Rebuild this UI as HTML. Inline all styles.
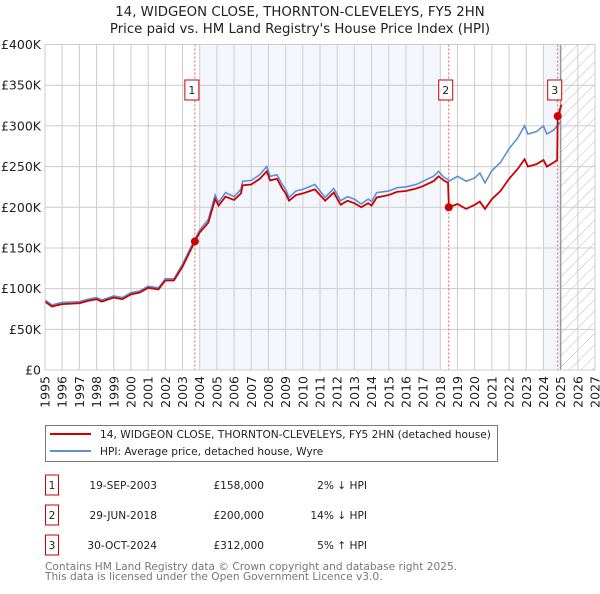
<!DOCTYPE html>
<html><head><meta charset="utf-8"><style>
body{margin:0;background:#fff;font-family:"DejaVu Sans","Liberation Sans",sans-serif;}
svg text{font-family:"DejaVu Sans","Liberation Sans",sans-serif;}
</style></head><body>
<svg id="c" width="600" height="590" viewBox="0 0 600 590" xmlns="http://www.w3.org/2000/svg">
<defs><pattern id="hatch" width="8" height="8" patternUnits="userSpaceOnUse" patternTransform="rotate(45)"><line x1="0" y1="0" x2="0" y2="8" stroke="#bbb" stroke-width="1"/></pattern></defs>
<text x="300" y="16" text-anchor="middle" font-size="13.3" fill="#222">14, WIDGEON CLOSE, THORNTON-CLEVELEYS, FY5 2HN</text>
<text x="300" y="33" text-anchor="middle" font-size="13.3" fill="#222">Price paid vs. HM Land Registry's House Price Index (HPI)</text>
<g id="plot"></g>
<g>
<rect x="45.5" y="425.5" width="452" height="36" fill="#fff" stroke="#777"/>
<line x1="50" y1="434" x2="91" y2="434" stroke="#cc0000" stroke-width="2"/>
<text x="100" y="438" font-size="10.6" fill="#222">14, WIDGEON CLOSE, THORNTON-CLEVELEYS, FY5 2HN (detached house)</text>
<line x1="50" y1="451" x2="91" y2="451" stroke="#5b8fd6" stroke-width="2"/>
<text x="100" y="455" font-size="10.6" fill="#222">HPI: Average price, detached house, Wyre</text>
</g>
<g id="table" font-size="10.6" fill="#222"></g>
<text x="45" y="570" font-size="10.6" fill="#777">Contains HM Land Registry data © Crown copyright and database right 2025.</text>
<text x="45" y="580" font-size="10.6" fill="#777">This data is licensed under the Open Government Licence v3.0.</text>
</svg>
<script>
const hpiYears=[1995,1995.4,1996,1997,1997.5,1998,1998.3,1999,1999.5,2000,2000.5,2001,2001.6,2002,2002.5,2003,2003.72,2004,2004.5,2004.9,2005.1,2005.5,2006,2006.4,2006.5,2007,2007.5,2007.9,2008.1,2008.5,2008.8,2009,2009.2,2009.6,2010,2010.7,2011.3,2011.8,2012.2,2012.6,2013,2013.4,2013.8,2014,2014.3,2015,2015.5,2016,2016.6,2017,2017.6,2017.9,2018.2,2018.45,2018.5,2019,2019.5,2020,2020.3,2020.6,2021,2021.5,2022,2022.5,2022.9,2023.1,2023.6,2024,2024.2,2024.6,2024.8,2025];
const hpiValues=[86,80,83,84,87,89,86,91,89,95,97,103,101,112,112,130,161,172,185,215,206,218,213,222,232,233,240,250,238,240,228,222,212,220,222,228,212,223,208,213,210,204,210,207,218,220,224,225,228,232,238,244,237,234,232,238,232,236,242,230,245,255,272,285,300,290,293,300,290,295,300,305];
const priceYears=[1995,1995.4,1996,1997,1997.5,1998,1998.3,1999,1999.5,2000,2000.5,2001,2001.6,2002,2002.5,2003,2003.72,2004,2004.5,2004.9,2005.1,2005.5,2006,2006.4,2006.5,2007,2007.5,2007.9,2008.1,2008.5,2008.8,2009,2009.2,2009.6,2010,2010.7,2011.3,2011.8,2012.2,2012.6,2013,2013.4,2013.8,2014,2014.3,2015,2015.5,2016,2016.6,2017,2017.6,2017.9,2018.2,2018.45,2018.5,2019,2019.5,2020,2020.3,2020.6,2021,2021.5,2022,2022.5,2022.9,2023.1,2023.6,2024,2024.2,2024.6,2024.8,2024.83,2025.05];
const priceValues=[84,78,81,82,85,87,84,89,87,93,95,101,99,110,110,127,158,169,181,210,202,213,209,217,227,228,235,244,233,235,223,217,208,215,217,222,208,218,203,208,205,200,205,202,212,215,219,220,223,226,232,238,233,230,200,204,198,203,207,198,210,220,235,247,259,250,253,258,250,255,258,312,326];
const saleYears=[2003.72,2018.49,2024.83];
const saleValues=[158,200,312];
const saleLabels=["1","2","3"];
const saleDates=["19-SEP-2003","29-JUN-2018","30-OCT-2024"];
const salePrices=["£158,000","£200,000","£312,000"];
const saleDiffs=["2% ↓ HPI","14% ↓ HPI","5% ↑ HPI"];
const yTicks=[0,50,100,150,200,250,300,350,400];
const yTickLabels=["£0","£50K","£100K","£150K","£200K","£250K","£300K","£350K","£400K"];
const xTicks=[1995,1996,1997,1998,1999,2000,2001,2002,2003,2004,2005,2006,2007,2008,2009,2010,2011,2012,2013,2014,2015,2016,2017,2018,2019,2020,2021,2022,2023,2024,2025,2026,2027];

const L=45,R=595,T=44.5,B=370;
const x=y=>L+(y-1995)/(2027-1995)*(R-L);
const yv=v=>B-v/400*(B-T);
const NS="http://www.w3.org/2000/svg";
const plot=document.getElementById('plot');
function mk(tag,attrs,parent){const e=document.createElementNS(NS,tag);for(const k in attrs)e.setAttribute(k,attrs[k]);(parent||plot).appendChild(e);return e;}

let r;
r=mk('rect',{x:x(2004),y:T,width:x(2018)-x(2004),height:B-T,fill:'#eef3fc',opacity:0.7});


r=mk('rect',{x:x(2024),y:T,width:x(2025)-x(2024),height:B-T,fill:'#eef3fc',opacity:0.7});


r=mk('rect',{x:x(2025),y:T,width:R-x(2025),height:B-T,fill:'url(#hatch)'});



xTicks.forEach(t=>{
  const l=mk('line',{x1:x(t),x2:x(t),y1:T,y2:B,stroke:'#ccc','stroke-width':1});
  
  
  const tx=mk('text',{x:0,y:0,'font-size':12.5,fill:'#222','text-anchor':'end',transform:`translate(${x(t)+4.5},${B+6}) rotate(-90)`});
  tx.textContent=t;
  
  
});
yTicks.forEach((t,i)=>{
  const l=mk('line',{x1:L,x2:R,y1:yv(t),y2:yv(t),stroke:'#ccc','stroke-width':1});
  
  
  const tx=mk('text',{x:L-4,y:yv(t)+4.5,'font-size':12.5,fill:'#222','text-anchor':'end'});
  tx.textContent=yTickLabels[i];
  
  
});
r=mk('line',{x1:x(2025),x2:x(2025),y1:T,y2:B,stroke:'#999','stroke-width':1.5});



saleYears.forEach((s,i)=>{
  const l=mk('line',{x1:x(s),x2:x(s),y1:T,y2:B,stroke:'#e06060','stroke-width':1,'stroke-dasharray':'2,2'});
  
  
});

const hp=mk('polyline',{points:hpiYears.map((a,i)=>x(a)+','+yv(hpiValues[i])).join(' '),fill:'none',stroke:'#5b8fd6','stroke-width':1.6});


const pp=mk('polyline',{points:priceYears.map((a,i)=>x(a)+','+yv(priceValues[i])).join(' '),fill:'none',stroke:'#cc0000','stroke-width':1.8});



saleYears.forEach((s,i)=>{
  const c=mk('circle',{cx:x(s),cy:yv(saleValues[i]),r:4,fill:'#cc0000'});
  
  
  const bx=mk('rect',{x:x(s)-10,y:80,width:14,height:20,fill:'#fff',stroke:'#cc0000','stroke-width':1});
  
  
  const t=mk('text',{x:x(s)-3,y:94,'font-size':11,'text-anchor':'middle',fill:'#222'});
  t.textContent=saleLabels[i];
  
  
});
r=mk('rect',{x:L,y:T,width:R-L,height:B-T,fill:'none',stroke:'#ccc'});



const tb=document.getElementById('table');
saleLabels.forEach((lab,i)=>{
  const cy=485+i*30;
  const g=mk('g',{},tb);
  
  
  const b=mk('rect',{x:45.5,y:cy-10,width:13,height:20,fill:'#fff',stroke:'#cc0000'},g);
  
  
  const cells=[[52,'middle',lab,'sale-number'],[157,'end',saleDates[i],'sale-date'],[264,'end',salePrices[i],'sale-price'],[367,'end',saleDiffs[i],'sale-hpi-diff']];
  cells.forEach(c=>{
    const t=mk('text',{x:c[0],y:cy+4,'text-anchor':c[1]},g);
    t.textContent=c[2];
    
    
  });
});
</script>
</body></html>
